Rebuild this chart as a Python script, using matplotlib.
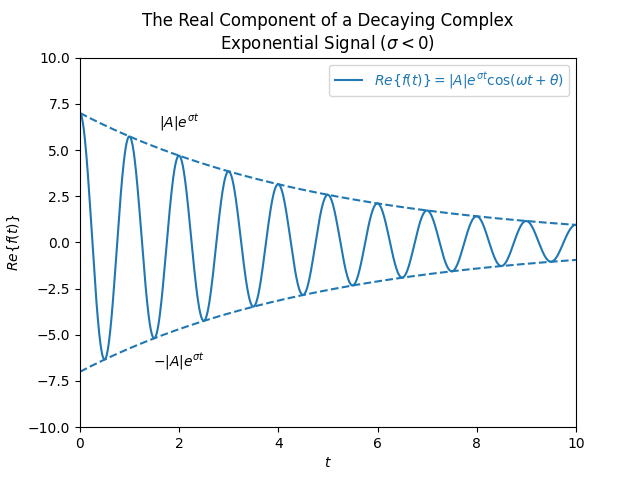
import numpy as np
import matplotlib.pyplot as plt

# signal parameters
A = 7.0
sigma = -0.2
omega = 2 * np.pi
theta = 0.0

t = np.linspace(0, 10, 1000)
envelope = np.abs(A) * np.exp(sigma * t)
signal = envelope * np.cos(omega * t + theta)

fig, ax = plt.subplots(figsize=(6.4, 4.8), dpi=100)

ax.plot(t, signal, color="C0", label=r"$Re\{f(t)\} = |A|e^{\sigma t}\cos(\omega t + \theta)$")
ax.plot(t, envelope, "--", color="C0")
ax.plot(t, -envelope, "--", color="C0")

ax.text(1.6, 6.25, r"$|A|e^{\sigma t}$")
ax.text(1.47, -6.7, r"$-|A|e^{\sigma t}$")

ax.set_xlim(0, 10)
ax.set_ylim(-10, 10)
ax.set_xlabel(r"$t$")
ax.set_ylabel(r"$Re\{f(t)\}$")
ax.set_title("The Real Component of a Decaying Complex\nExponential Signal ($\\sigma < 0$)")
ax.legend(loc="upper right", labelcolor="linecolor")

fig.savefig("out.png")
